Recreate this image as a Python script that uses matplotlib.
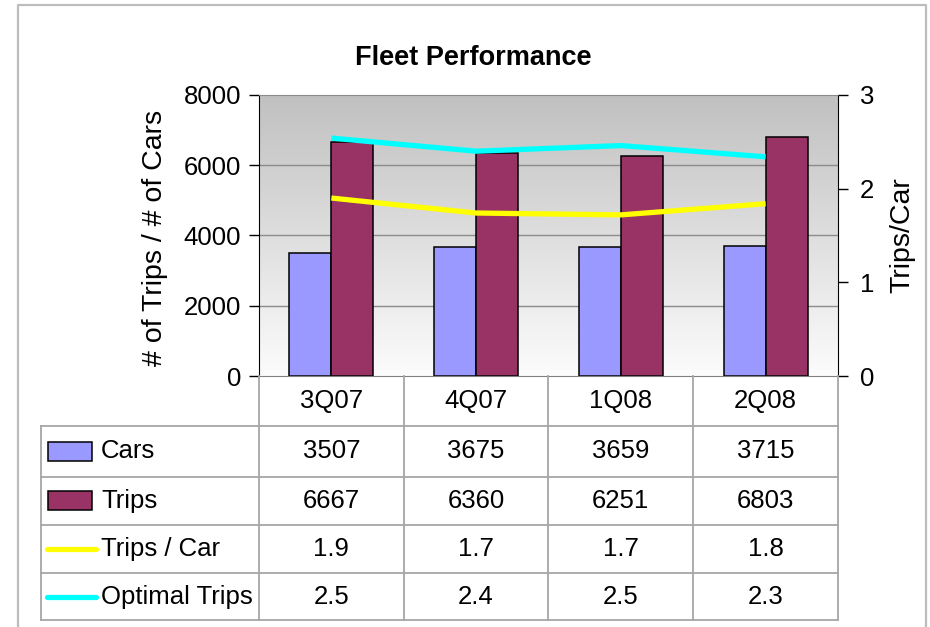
import numpy as np
import matplotlib
matplotlib.use('Agg')
import matplotlib.pyplot as plt
import matplotlib.transforms as mtransforms
from matplotlib.lines import Line2D
from matplotlib.patches import Rectangle

quarters = ['3Q07', '4Q07', '1Q08', '2Q08']
cars = [3507, 3675, 3659, 3715]
trips = [6667, 6360, 6251, 6803]
trips_per_car = [1.90, 1.74, 1.72, 1.84]
optimal_trips = [2.54, 2.40, 2.46, 2.34]

series_names = ['Cars', 'Trips', 'Trips / Car', 'Optimal Trips']
car_color = '#9999FF'
trip_color = '#993366'
ratio_color = '#FFFF00'
optimal_color = '#00FFFF'

plt.rcParams['font.family'] = ['Liberation Sans', 'DejaVu Sans']
FS = 18.5

W, H = 930, 627
def fx(px):
    return px / W
def fy(py):
    return 1 - py / H

fig = plt.figure(figsize=(9.3, 6.27), dpi=100)
ax = fig.add_axes([fx(259), fy(376), (838 - 259) / W, (376 - 95) / H])

# gradient background of the plot area
grad = np.linspace(0, 1, 256).reshape(-1, 1)
ax.imshow(grad, cmap=matplotlib.colors.LinearSegmentedColormap.from_list('g', ['#FCFCFC', '#C0C0C0']),
          extent=[0, 1, 0, 1], transform=ax.transAxes, aspect='auto', origin='lower', zorder=0)

x = np.arange(len(quarters))
bw = 0.29
ax.bar(x - bw / 2, cars, bw, color=car_color, edgecolor='black', linewidth=1.1, zorder=2)
ax.bar(x + bw / 2, trips, bw, color=trip_color, edgecolor='black', linewidth=1.1, zorder=2)

ax.set_xlim(-0.5, len(quarters) - 0.5)
ax.set_ylim(0, 8000)
ax.set_yticks([0, 2000, 4000, 6000, 8000])
ax.set_xticks([])
for yv in [2000, 4000, 6000]:
    ax.axhline(yv, color='#8C8C8C', linewidth=1, zorder=1)
ax.tick_params(axis='y', labelsize=FS, length=7, width=1, pad=6, colors='black')
ax.spines['top'].set_color('#8C8C8C')
ax.spines['bottom'].set_color('#808080')
ax.spines['left'].set_color('black')
ax.spines['right'].set_color('black')
ax.set_ylabel('# of Trips / # of Cars', fontsize=20.5)
ax.yaxis.set_label_coords(-0.157, 0.49)

ax2 = ax.twinx()
ax2.plot(x, trips_per_car, color=ratio_color, linewidth=3.8, solid_capstyle='butt', zorder=3)
ax2.plot(x, optimal_trips, color=optimal_color, linewidth=3.8, solid_capstyle='butt', zorder=3)
ax2.set_ylim(0, 3)
ax2.set_yticks([0, 1, 2, 3])
ax2.tick_params(axis='y', labelsize=FS, length=7, width=1, pad=9)
for s in ax2.spines.values():
    s.set_visible(False)
ax2.set_ylabel('Trips/Car', fontsize=20.5)
ax2.yaxis.set_label_coords(1.088, 0.50)

fig.text(fx(473.5), fy(58), 'Fleet Performance', fontsize=19.5, fontweight='bold',
         ha='center', va='center')

# data table under the chart
grid_c = '#A6A6A6'
blend = mtransforms.blended_transform_factory(ax.transData, fig.transFigure)
row_edges = [376, 425.7, 476.7, 525, 573.3, 620]
ax_right = fx(838)

for i in range(len(quarters) + 1):
    fig.add_artist(Line2D([i - 0.5, i - 0.5], [fy(376), fy(620)], transform=blend,
                          color=grid_c, linewidth=1.3))
for r in row_edges[1:]:
    fig.add_artist(Line2D([fx(41), ax_right], [fy(r), fy(r)], transform=fig.transFigure,
                          color=grid_c, linewidth=1.3))
fig.add_artist(Line2D([fx(41), fx(41)], [fy(row_edges[1]), fy(row_edges[-1])],
                      transform=fig.transFigure, color=grid_c, linewidth=1.3))

for i, q in enumerate(quarters):
    fig.text(i, fy((row_edges[0] + row_edges[1]) / 2), q, transform=blend,
             fontsize=FS, ha='center', va='center')

rows = [[str(v) for v in cars], [str(v) for v in trips],
        ['%.1f' % v for v in trips_per_car], ['%.1f' % v for v in optimal_trips]]
for r, vals in enumerate(rows):
    yc = fy((row_edges[r + 1] + row_edges[r + 2]) / 2)
    for i, v in enumerate(vals):
        fig.text(i, yc, v, transform=blend, fontsize=FS, ha='center', va='center')
    fig.text(fx(101), yc, series_names[r], fontsize=FS, ha='left', va='center')

# legend keys
for r, col in enumerate([car_color, trip_color]):
    yc = (row_edges[r + 1] + row_edges[r + 2]) / 2
    fig.add_artist(Rectangle((fx(48), fy(yc + 9.5)), fx(92) - fx(48), 19 / H,
                             transform=fig.transFigure, facecolor=col, edgecolor='black', linewidth=1.1))
for r, col in [(2, ratio_color), (3, optimal_color)]:
    yc = fy((row_edges[r + 1] + row_edges[r + 2]) / 2)
    fig.add_artist(Line2D([fx(47), fx(96)], [yc, yc], transform=fig.transFigure,
                          color=col, linewidth=3.8, solid_capstyle='round'))

# outer chart frame
frame_c = '#BDBDBD'
fig.add_artist(Line2D([fx(18), fx(18), fx(926), fx(926)], [0, fy(5), fy(5), 0],
                      transform=fig.transFigure, color=frame_c, linewidth=1.6))

fig.savefig('out.png', dpi=100)
